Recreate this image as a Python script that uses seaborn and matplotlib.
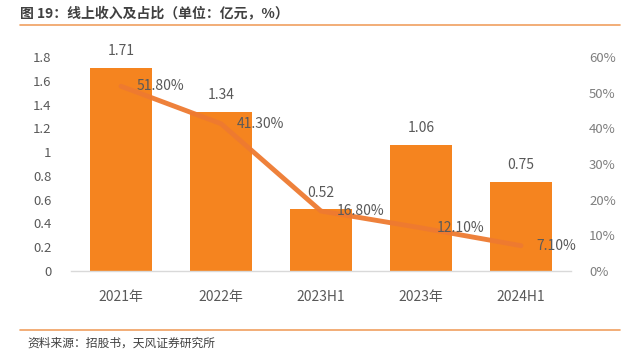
import matplotlib
matplotlib.use("Agg")
import matplotlib.pyplot as plt
import seaborn as sns
import pandas as pd
from matplotlib.ticker import FuncFormatter, MultipleLocator

categories = ["2021年", "2022年", "2023H1", "2023年", "2024H1"]
revenue = [1.71, 1.34, 0.52, 1.06, 0.75]
share = [0.518, 0.413, 0.168, 0.121, 0.071]
share_labels = ["51.80%", "41.30%", "16.80%", "12.10%", "7.10%"]

sns.set_theme(style="white")
plt.rcParams['font.family'] = ['Noto Sans CJK SC', 'DejaVu Sans']

df = pd.DataFrame({"cat": categories, "rev": revenue, "share": share})

fig = plt.figure(figsize=(6.24, 3.56), dpi=100)
ax = fig.add_axes([71/624, 1-271/356, 500/624, 214/356])

bar_color = "#F5841F"
line_color = "#EE7A30"
text_gray = "#595959"

sns.barplot(data=df, x="cat", y="rev", ax=ax, color=bar_color, width=0.62,
            saturation=1, edgecolor="none")
ax.set_ylim(0, 1.8)
ax.set_xlim(-0.5, 4.5)
ax.yaxis.set_major_locator(MultipleLocator(0.2))
ax.yaxis.set_major_formatter(FuncFormatter(lambda v, p: "0" if abs(v) < 1e-9 else ("1" if abs(v-1) < 1e-9 else f"{v:.1f}")))
for s in ["top", "right", "left"]:
    ax.spines[s].set_visible(False)
ax.spines["bottom"].set_color("#D9D9D9")
ax.spines["bottom"].set_linewidth(1)
ax.set_xlabel("")
ax.set_ylabel("")
ax.tick_params(axis="y", length=0, pad=14, labelsize=9.5, labelcolor=text_gray)
ax.tick_params(axis="x", length=0, pad=14, labelsize=10, labelcolor=text_gray)

for i, v in enumerate(revenue):
    ax.annotate(f"{v:.2f}", (i, v), xytext=(0, 12), textcoords="offset points",
                ha="center", va="center", fontsize=10, color=text_gray)

ax2 = ax.twinx()
sns.lineplot(x=list(range(len(categories))), y=share, ax=ax2, color=line_color,
             linewidth=3.5, alpha=0.95)
ax2.set_ylim(0, 0.6)
ax2.yaxis.set_major_locator(MultipleLocator(0.1))
ax2.yaxis.set_major_formatter(FuncFormatter(lambda v, p: f"{v*100:.0f}%"))
for s in ["top", "right", "left", "bottom"]:
    ax2.spines[s].set_visible(False)
ax2.tick_params(axis="y", length=0, pad=13, labelsize=9.5, labelcolor="#7F7F7F")
ax2.set_ylabel("")
for i, (v, lab) in enumerate(zip(share, share_labels)):
    ax2.annotate(lab, (i, v), xytext=(11, 0), textcoords="offset points",
                 ha="left", va="center", fontsize=10, color=text_gray)

# title and footer
fig.text(20/624, 1-14/356, "图 19：线上收入及占比（单位：亿元，%）", fontsize=10,
         fontweight="bold", color="#404040", ha="left", va="center")
fig.add_artist(plt.Line2D([20/624, 620/624], [1-25/356, 1-25/356], color="#F0A060",
                          linewidth=1.2, transform=fig.transFigure))
fig.add_artist(plt.Line2D([20/624, 620/624], [1-330/356, 1-330/356], color="#F0A060",
                          linewidth=1.2, transform=fig.transFigure))
fig.text(27/624, 1-343/356, "资料来源：招股书，天风证券研究所", fontsize=8.5,
         color="#404040", ha="left", va="center")

fig.savefig("out.png", dpi=100)
